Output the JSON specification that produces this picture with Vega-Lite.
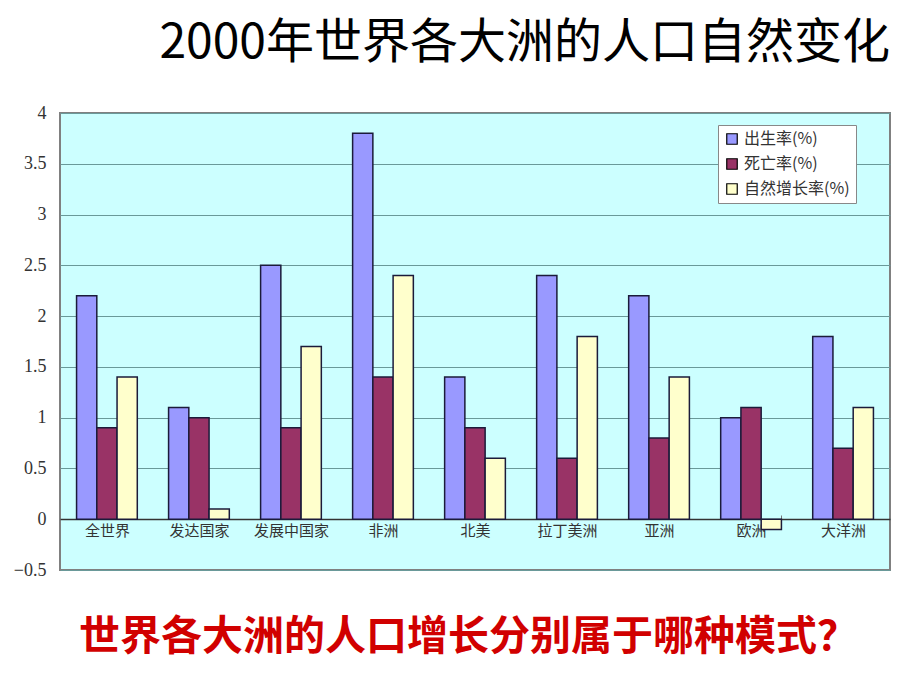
{
  "$schema": "https://vega.github.io/schema/vega-lite/v6.json",
  "width": 830,
  "height": 457,
  "autosize": {"type": "none"},
  "padding": {"left": 60, "top": 113, "right": 30, "bottom": 120},
  "background": "white",
  "title": {
    "text": "2000年世界各大洲的人口自然变化",
    "anchor": "end",
    "frame": "group",
    "offset": 36,
    "fontSize": 48,
    "font": "Noto Sans CJK SC",
    "fontWeight": "normal",
    "color": "#000000"
  },
  "data": {
    "values": [
      {"region": "全世界", "series": "出生率(%)", "value": 2.2},
      {"region": "全世界", "series": "死亡率(%)", "value": 0.9},
      {"region": "全世界", "series": "自然增长率(%)", "value": 1.4},
      {"region": "发达国家", "series": "出生率(%)", "value": 1.1},
      {"region": "发达国家", "series": "死亡率(%)", "value": 1.0},
      {"region": "发达国家", "series": "自然增长率(%)", "value": 0.1},
      {"region": "发展中国家", "series": "出生率(%)", "value": 2.5},
      {"region": "发展中国家", "series": "死亡率(%)", "value": 0.9},
      {"region": "发展中国家", "series": "自然增长率(%)", "value": 1.7},
      {"region": "非洲", "series": "出生率(%)", "value": 3.8},
      {"region": "非洲", "series": "死亡率(%)", "value": 1.4},
      {"region": "非洲", "series": "自然增长率(%)", "value": 2.4},
      {"region": "北美", "series": "出生率(%)", "value": 1.4},
      {"region": "北美", "series": "死亡率(%)", "value": 0.9},
      {"region": "北美", "series": "自然增长率(%)", "value": 0.6},
      {"region": "拉丁美洲", "series": "出生率(%)", "value": 2.4},
      {"region": "拉丁美洲", "series": "死亡率(%)", "value": 0.6},
      {"region": "拉丁美洲", "series": "自然增长率(%)", "value": 1.8},
      {"region": "亚洲", "series": "出生率(%)", "value": 2.2},
      {"region": "亚洲", "series": "死亡率(%)", "value": 0.8},
      {"region": "亚洲", "series": "自然增长率(%)", "value": 1.4},
      {"region": "欧洲", "series": "出生率(%)", "value": 1.0},
      {"region": "欧洲", "series": "死亡率(%)", "value": 1.1},
      {"region": "欧洲", "series": "自然增长率(%)", "value": -0.1},
      {"region": "大洋洲", "series": "出生率(%)", "value": 1.8},
      {"region": "大洋洲", "series": "死亡率(%)", "value": 0.7},
      {"region": "大洋洲", "series": "自然增长率(%)", "value": 1.1}
    ]
  },
  "mark": {"type": "bar", "stroke": "#1b1b3a", "strokeWidth": 1.5},
  "encoding": {
    "x": {
      "field": "region",
      "type": "nominal",
      "sort": null,
      "scale": {"paddingInner": 0.34, "paddingOuter": 0.18},
      "axis": {
        "orient": "bottom",
        "offset": -51,
        "title": "世界各大洲的人口增长分别属于哪种模式？",
        "titleFont": "Noto Sans CJK SC",
        "titleFontSize": 41,
        "titleFontWeight": "bold",
        "titleColor": "#D10000",
        "titlePadding": 79,
        "titleX": 408,
        "titleAlign": "center",
        "labelAngle": 0,
        "labelFont": "Noto Sans CJK SC",
        "labelFontSize": 15,
        "labelColor": "#333333",
        "labelPadding": 8,
        "domainColor": "#333333",
        "domainWidth": 1.5,
        "tickBand": "extent",
        "tickSize": -4,
        "tickColor": "#777777",
        "grid": false
      }
    },
    "xOffset": {
      "field": "series",
      "type": "nominal",
      "sort": ["出生率(%)", "死亡率(%)", "自然增长率(%)"],
      "scale": {"paddingInner": 0, "paddingOuter": 0}
    },
    "y": {
      "field": "value",
      "type": "quantitative",
      "scale": {"domain": [-0.5, 4], "nice": false, "zero": false},
      "axis": {
        "title": null,
        "values": [-0.5, 0, 0.5, 1, 1.5, 2, 2.5, 3, 3.5, 4],
        "format": ".1~f",
        "labelFont": "Liberation Serif",
        "labelFontSize": 18,
        "labelColor": "#333333",
        "labelPadding": 14,
        "ticks": false,
        "domain": false,
        "grid": true,
        "gridColor": "#6a9999",
        "gridWidth": 1
      }
    },
    "color": {
      "field": "series",
      "type": "nominal",
      "scale": {
        "domain": ["出生率(%)", "死亡率(%)", "自然增长率(%)"],
        "range": ["#9999FF", "#993366", "#FFFFCC"]
      },
      "legend": {
        "title": null,
        "orient": "none",
        "legendX": 658,
        "legendY": 12,
        "fillColor": "#FFFFFF",
        "strokeColor": "#888888",
        "padding": 6,
        "symbolType": "square",
        "symbolSize": 110,
        "symbolStrokeColor": "#000000",
        "symbolStrokeWidth": 1.2,
        "labelFont": "Noto Sans CJK SC",
        "labelFontSize": 16,
        "labelColor": "#333333",
        "rowPadding": 9,
        "labelOffset": 4
      }
    }
  },
  "config": {
    "view": {"fill": "#CCFFFF", "stroke": "#808080", "strokeWidth": 2}
  }
}
